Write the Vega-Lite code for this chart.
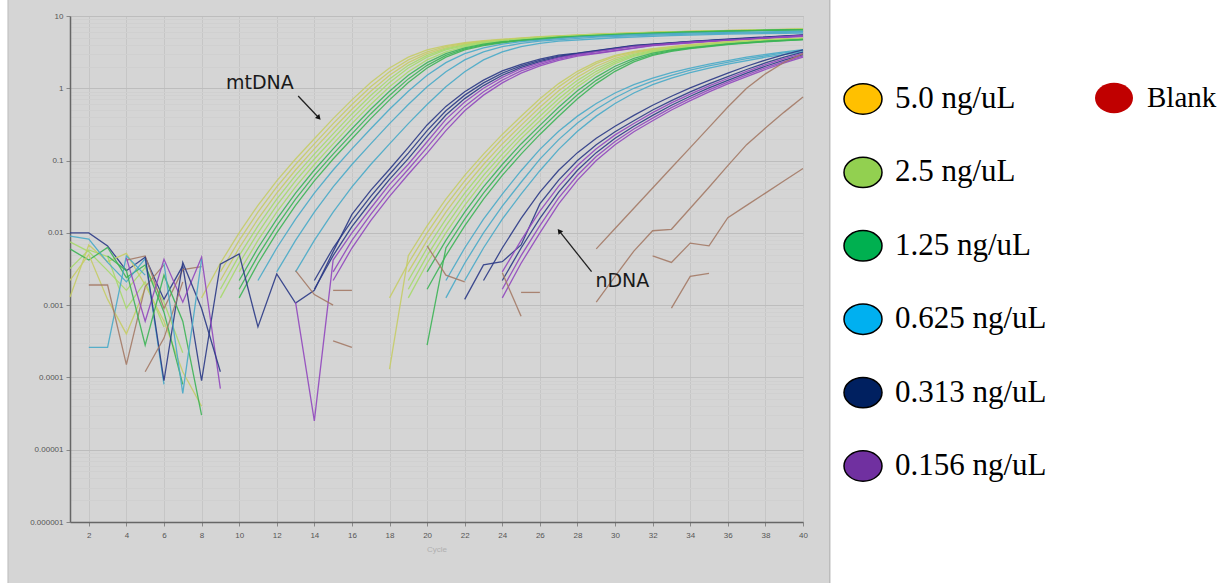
{
  "$schema": "https://vega.github.io/schema/vega-lite/v6.json",
  "width": 733,
  "height": 506,
  "autosize": {"type": "none"},
  "padding": {"left": 70, "top": 16, "right": 419, "bottom": 61},
  "data": {"values": [
    {"id":"m5a","g":"5.0 ng/uL","c":[8,9,10,11,12,13,14,15,16,17,18,19,20,21,22,23,26,29,32,35,38,40],"v":[0.00126,0.0038,0.01,0.024,0.0525,0.105,0.2,0.38,0.692,1.202,1.905,2.692,3.388,3.89,4.266,4.571,5.19,5.62,5.96,6.24,6.46,6.61]},
    {"id":"m5b","g":"5.0 ng/uL","c":[9,10,11,12,13,14,15,16,17,18,19,20,21,22,23,26,29,32,35,38,40],"v":[0.00288,0.00785,0.0193,0.0432,0.0881,0.17,0.324,0.596,1.047,1.698,2.469,3.199,3.758,4.169,4.492,5.15,5.6,5.94,6.22,6.44,6.59]},
    {"id":"m5c","g":"5.0 ng/uL","c":[9,10,11,12,13,14,15,16,17,18,19,20,21,22,23,26,29,32,35,38,40],"v":[0.00219,0.00617,0.0155,0.0355,0.0741,0.145,0.275,0.513,0.912,1.514,2.265,3.02,3.631,4.074,4.416,5.1,5.56,5.92,6.2,6.42,6.57]},
    {"id":"m25a","g":"2.5 ng/uL","c":[9,10,11,12,13,14,15,16,17,18,19,20,21,22,23,26,29,32,35,38,40],"v":[0.00166,0.00484,0.01245,0.0292,0.0624,0.123,0.234,0.442,0.794,1.349,2.078,2.851,3.508,3.981,4.34,5.05,5.53,5.9,6.18,6.4,6.55]},
    {"id":"m25b","g":"2.5 ng/uL","c":[9,10,11,12,13,14,15,16,17,18,19,20,21,22,23,24,27,30,33,36,39,40],"v":[0.00126,0.0038,0.01,0.024,0.0525,0.105,0.2,0.38,0.692,1.202,1.905,2.692,3.388,3.89,4.266,4.571,5.19,5.62,5.96,6.24,6.46,6.5]},
    {"id":"m25c","g":"2.5 ng/uL","c":[10,11,12,13,14,15,16,17,18,19,20,21,22,23,24,27,30,33,36,39,40],"v":[0.00288,0.00785,0.0193,0.0432,0.0881,0.17,0.324,0.596,1.047,1.698,2.469,3.199,3.758,4.169,4.492,5.15,5.6,5.94,6.22,6.44,6.48]},
    {"id":"m125a","g":"1.25 ng/uL","c":[10,11,12,13,14,15,16,17,18,19,20,21,22,23,24,27,30,33,36,39,40],"v":[0.00219,0.00617,0.0155,0.0355,0.0741,0.145,0.275,0.513,0.912,1.514,2.265,3.02,3.631,4.074,4.416,5.1,5.56,5.92,6.2,6.42,6.46]},
    {"id":"m125b","g":"1.25 ng/uL","c":[10,11,12,13,14,15,16,17,18,19,20,21,22,23,24,27,30,33,36,39,40],"v":[0.00166,0.00484,0.01245,0.0292,0.0624,0.123,0.234,0.442,0.794,1.349,2.078,2.851,3.508,3.981,4.34,5.05,5.53,5.9,6.18,6.4,6.44]},
    {"id":"m125c","g":"1.25 ng/uL","c":[10,11,12,13,14,15,16,17,18,19,20,21,22,23,24,25,28,31,34,37,40],"v":[0.00126,0.0038,0.01,0.024,0.0525,0.105,0.2,0.38,0.692,1.202,1.905,2.692,3.388,3.89,4.266,4.571,5.19,5.62,5.96,6.24,6.46]},
    {"id":"m625a","g":"0.625 ng/uL","c":[11,12,13,14,15,16,17,18,19,20,21,22,23,24,25,28,31,34,37,40],"v":[0.00219,0.00617,0.0155,0.0355,0.0741,0.145,0.275,0.513,0.912,1.514,2.265,3.02,3.631,4.074,4.416,5.1,5.5,5.8,6.0,6.15]},
    {"id":"m625b","g":"0.625 ng/uL","c":[12,13,14,15,16,17,18,19,20,21,22,23,24,25,26,29,32,35,38,40],"v":[0.00288,0.00785,0.0193,0.0432,0.0881,0.17,0.324,0.596,1.047,1.698,2.469,3.199,3.758,4.169,4.492,5.1,5.45,5.7,5.9,6.0]},
    {"id":"m625c","g":"0.625 ng/uL","c":[13,14,15,16,17,18,19,20,21,22,23,24,25,26,27,30,33,36,39,40],"v":[0.00288,0.00785,0.0193,0.0432,0.0881,0.17,0.324,0.596,1.047,1.698,2.469,3.199,3.758,4.169,4.492,5.0,5.35,5.6,5.75,5.8]},
    {"id":"m313a","g":"0.313 ng/uL","c":[1,2,3,4,5,6,7,8,9,10,11,12,13,14,15,16,17,18,19,20,21,22,23,24,25,26,27,28,31,34,37,40],"v":[0.01,0.01,0.0066,0.003,0.0046,0.0012,0.0035,0.00009,0.0037,0.0051,0.0005,0.0027,0.00107,0.0016,0.0055,0.018,0.0387,0.0759,0.152,0.311,0.562,0.896,1.296,1.738,2.138,2.526,2.868,3.06,3.93,4.45,4.98,5.47]},
    {"id":"m313b","g":"0.313 ng/uL","c":[14,15,16,17,18,19,20,21,22,23,24,25,26,27,28,31,34,37,40],"v":[0.00219,0.00617,0.0148,0.032,0.0646,0.127,0.26,0.49,0.804,1.189,1.622,2.042,2.427,2.786,3.03,3.89,4.42,4.9,5.43]},
    {"id":"m313c","g":"0.313 ng/uL","c":[14,15,16,17,18,19,20,21,22,23,24,25,26,27,28,31,34,37,40],"v":[0.00166,0.00484,0.0122,0.0265,0.055,0.1065,0.2175,0.427,0.72,1.09,1.514,1.95,2.331,2.707,2.99,3.84,4.4,4.85,5.4]},
    {"id":"m156a","g":"0.156 ng/uL","c":[13,14,15,16,17,18,19,20,21,22,23,24,25,26,27,28,31,34,37,40],"v":[0.0011,0.000025,0.0042,0.01,0.0219,0.0468,0.0891,0.182,0.372,0.646,1.0,1.413,1.862,2.239,2.63,2.951,3.8,4.37,4.79,5.37]},
    {"id":"m156b","g":"0.156 ng/uL","c":[15,16,17,18,19,20,21,22,23,24,25,26,27,28,29,32,35,38,40],"v":[0.00288,0.00785,0.018,0.0387,0.0759,0.152,0.311,0.562,0.896,1.296,1.738,2.138,2.526,2.868,3.06,3.93,4.45,4.98,5.3]},
    {"id":"m156c","g":"0.156 ng/uL","c":[15,16,17,18,19,20,21,22,23,24,25,26,27,28,29,32,35,38,40],"v":[0.00219,0.00617,0.0148,0.032,0.0646,0.127,0.26,0.49,0.804,1.189,1.622,2.042,2.427,2.786,3.03,3.89,4.42,4.9,5.2]},
    {"id":"n5a","g":"5.0 ng/uL","c":[18,19,20,21,22,23,24,25,26,27,28,29,30,31,32,34,36,38,40],"v":[0.00013,0.00484,0.01245,0.0292,0.0624,0.123,0.23,0.41,0.716,1.161,1.718,2.317,2.851,3.236,3.53,4.03,4.4,4.7,4.92]},
    {"id":"n5b","g":"5.0 ng/uL","c":[18,19,20,21,22,23,24,25,26,27,28,29,30,31,32,34,36,38,40],"v":[0.00126,0.0038,0.01,0.024,0.0525,0.105,0.2,0.355,0.631,1.047,1.585,2.188,2.754,3.162,3.467,3.98,4.37,4.68,4.9]},
    {"id":"n5c","g":"5.0 ng/uL","c":[19,20,21,22,23,24,25,26,27,28,29,30,31,32,33,35,37,39,40],"v":[0.00288,0.00785,0.0193,0.0432,0.0881,0.17,0.307,0.546,0.923,1.429,2.018,2.6,3.055,3.388,3.65,4.12,4.48,4.76,4.85]},
    {"id":"n25a","g":"2.5 ng/uL","c":[19,20,21,22,23,24,25,26,27,28,29,30,31,32,33,35,37,39,40],"v":[0.00219,0.00617,0.0155,0.0355,0.0741,0.145,0.266,0.473,0.813,1.288,1.862,2.455,2.951,3.311,3.6,4.08,4.45,4.73,4.82]},
    {"id":"n25b","g":"2.5 ng/uL","c":[19,20,21,22,23,24,25,26,27,28,29,30,31,32,33,35,37,39,40],"v":[0.00166,0.00484,0.01245,0.0292,0.0624,0.123,0.23,0.41,0.716,1.161,1.718,2.317,2.851,3.236,3.53,4.03,4.4,4.7,4.8]},
    {"id":"n25c","g":"2.5 ng/uL","c":[19,20,21,22,23,24,25,26,27,28,29,30,31,32,33,35,37,39,40],"v":[0.00126,0.0038,0.01,0.024,0.0525,0.105,0.2,0.355,0.631,1.047,1.585,2.188,2.754,3.162,3.467,3.98,4.37,4.68,4.79]},
    {"id":"n125a","g":"1.25 ng/uL","c":[20,21,22,23,24,25,26,27,28,29,30,31,32,33,34,36,38,40],"v":[0.00288,0.00785,0.0193,0.0432,0.0881,0.17,0.307,0.546,0.923,1.429,2.018,2.6,3.055,3.388,3.65,4.12,4.48,4.76]},
    {"id":"n125b","g":"1.25 ng/uL","c":[20,21,22,23,24,25,26,27,28,29,30,31,32,33,34,36,38,40],"v":[0.00028,0.00617,0.0155,0.0355,0.0741,0.145,0.266,0.473,0.813,1.288,1.862,2.455,2.951,3.311,3.6,4.08,4.45,4.73]},
    {"id":"n125c","g":"1.25 ng/uL","c":[20,21,22,23,24,25,26,27,28,29,30,31,32,33,34,36,38,40],"v":[0.00166,0.00484,0.01245,0.0292,0.0624,0.123,0.23,0.41,0.716,1.161,1.718,2.317,2.851,3.236,3.53,4.03,4.4,4.7]},
    {"id":"n625a","g":"0.625 ng/uL","c":[21,22,23,24,25,26,27,28,29,30,31,32,33,34,35,37,39,40],"v":[0.00219,0.00617,0.0155,0.0343,0.0724,0.143,0.254,0.412,0.617,0.861,1.122,1.38,1.641,1.905,2.16,2.69,3.2,3.43]},
    {"id":"n625b","g":"0.625 ng/uL","c":[21,22,23,24,25,26,27,28,29,30,31,32,33,34,35,37,39,40],"v":[0.00126,0.0038,0.01,0.0234,0.0501,0.1047,0.195,0.331,0.513,0.741,1.0,1.259,1.514,1.778,2.042,2.57,3.09,3.31]},
    {"id":"n625c","g":"0.625 ng/uL","c":[22,23,24,25,26,27,28,29,30,31,32,33,34,35,36,38,40],"v":[0.00219,0.00617,0.0155,0.0343,0.0724,0.143,0.254,0.412,0.617,0.861,1.122,1.38,1.641,1.905,2.16,2.69,3.2]},
    {"id":"n313a","g":"0.313 ng/uL","c":[23,24,25,26,27,28,29,30,31,32,33,34,35,36,37,38,39,40],"v":[0.00219,0.00617,0.01585,0.0367,0.0733,0.1288,0.2042,0.2985,0.4217,0.5821,0.7762,1.012,1.288,1.622,2.018,2.455,2.917,3.39]},
    {"id":"n313b","g":"0.313 ng/uL","c":[22,23,24,25,26,27,28,29,30,31,32,33,34,35,36,37,38,39,40],"v":[0.0012,0.0036,0.004,0.0068,0.0251,0.0537,0.1,0.166,0.251,0.355,0.501,0.676,0.891,1.148,1.445,1.82,2.239,2.692,3.162]},
    {"id":"n313c","g":"0.313 ng/uL","c":[24,25,26,27,28,29,30,31,32,33,34,35,36,37,38,39,40],"v":[0.00219,0.00617,0.01585,0.0367,0.0733,0.1288,0.2042,0.2985,0.4217,0.5821,0.7762,1.012,1.288,1.622,2.018,2.455,2.917]},
    {"id":"n156a","g":"0.156 ng/uL","c":[24,25,26,27,28,29,30,31,32,33,34,35,36,37,38,39,40],"v":[0.00288,0.00785,0.02,0.0444,0.0856,0.1462,0.2265,0.3255,0.4597,0.6273,0.8318,1.078,1.365,1.718,2.126,2.57,3.038]},
    {"id":"n156b","g":"0.156 ng/uL","c":[24,25,26,27,28,29,30,31,32,33,34,35,36,37,38,39,40],"v":[0.00166,0.00484,0.01259,0.0304,0.0627,0.1135,0.1841,0.2738,0.3868,0.5401,0.7244,0.9495,1.216,1.531,1.917,2.344,2.802]},
    {"id":"n156c","g":"0.156 ng/uL","c":[24,25,26,27,28,29,30,31,32,33,34,35,36,37,38,39,40],"v":[0.00126,0.0038,0.01,0.0251,0.0537,0.1,0.166,0.251,0.355,0.501,0.676,0.891,1.148,1.445,1.82,2.239,2.692]},
    {"id":"bA","g":"Blank","c":[29,30,31,32,33,34,35,36,37,38,39,40],"v":[0.006,0.0115,0.0219,0.0417,0.0794,0.151,0.288,0.55,1.0,1.585,2.29,3.02]},
    {"id":"bB","g":"Blank","c":[29,30,31,32,33,34,35,36,37,38,39,40],"v":[0.0011,0.0025,0.0056,0.0107,0.0112,0.0219,0.0427,0.0851,0.166,0.282,0.468,0.759]},
    {"id":"bC","g":"Blank","c":[32,33,34,35,36,37,38,39,40],"v":[0.0048,0.0039,0.0072,0.0066,0.0162,0.024,0.0355,0.0525,0.0776]},
    {"id":"bD","g":"Blank","c":[33,34,35],"v":[0.00091,0.0025,0.00275]},
    {"id":"bF1","g":"Blank","c":[20,21,22],"v":[0.0066,0.0026,0.0021]},
    {"id":"bF2","g":"Blank","c":[24,25],"v":[0.0028,0.0007]},
    {"id":"bF3","g":"Blank","c":[25,26],"v":[0.0015,0.0015]},
    {"id":"bF4","g":"Blank","c":[13,14,15],"v":[0.003,0.0014,0.001]},
    {"id":"bF5","g":"Blank","c":[15,16],"v":[0.0016,0.0016]},
    {"id":"bF6","g":"Blank","c":[15,16],"v":[0.00032,0.00026]},
    {"id":"z1","g":"2.5 ng/uL","c":[1,2,3,4,5,6,7],"v":[0.0075,0.0055,0.003,0.0016,0.0033,0.0011,0.00022]},
    {"id":"z2","g":"2.5 ng/uL","c":[1,2,3,4,5,6],"v":[0.0032,0.0058,0.0047,0.0009,0.0021,0.0005]},
    {"id":"z3","g":"5.0 ng/uL","c":[1,2,3,4,5,6,7,8],"v":[0.0013,0.0068,0.004,0.0052,0.0019,0.0006,0.00012,0.00004]},
    {"id":"z4","g":"1.25 ng/uL","c":[1,2,3,4,5,6,7],"v":[0.006,0.0042,0.0063,0.0024,0.0036,0.0008,0.00008]},
    {"id":"z5","g":"5.0 ng/uL","c":[1,2,3,4,5],"v":[0.0022,0.005,0.0012,0.0004,0.0017]},
    {"id":"z6","g":"0.625 ng/uL","c":[1,2,3,4,5,6],"v":[0.009,0.0082,0.0039,0.0021,0.0044,0.00008]},
    {"id":"z7","g":"0.625 ng/uL","c":[2,3,4,5],"v":[0.00026,0.00026,0.0048,0.0026]},
    {"id":"z8","g":"Blank","c":[2,3,4,5,6],"v":[0.0019,0.0019,0.00015,0.0018,0.0036]},
    {"id":"z9","g":"Blank","c":[4,5,6,7,8],"v":[0.0042,0.0048,0.0009,0.0031,0.0034]},
    {"id":"z10","g":"0.156 ng/uL","c":[4,5,6,7,8,9],"v":[0.0045,0.0006,0.0043,0.0011,0.0046,0.00007]},
    {"id":"z11","g":"0.313 ng/uL","c":[5,6,7,8,9],"v":[0.0047,0.00009,0.0039,0.0009,0.00012]},
    {"id":"z12","g":"1.25 ng/uL","c":[3,4,5,6,7,8],"v":[0.0048,0.003,0.00028,0.0026,0.0006,0.00003]},
    {"id":"z13","g":"Blank","c":[5,6,7],"v":[0.00012,0.00035,0.0021]},
    {"id":"z14","g":"0.625 ng/uL","c":[6,7,8],"v":[0.0038,0.00006,0.0043]}
  ]},
  "layer": [
    {
      "data": {"values": [{}]},
      "mark": {"type": "rect", "fill": "#ffffff", "stroke": "#aaaaaa", "strokeWidth": 1},
      "encoding": {
        "x": {"datum": 41.43, "type": "quantitative"},
        "x2": {"datum": 90},
        "y": {"datum": 1000, "type": "quantitative"},
        "y2": {"datum": 1e-9}
      }
    },
    {
      "data": {"values": [{}]},
      "mark": {"type": "rect", "fill": "#ffffff", "stroke": "#bbbbbb", "strokeWidth": 1},
      "encoding": {
        "x": {"datum": -10, "type": "quantitative"},
        "x2": {"datum": -2.3},
        "y": {"datum": 1000, "type": "quantitative"},
        "y2": {"datum": 1e-9}
      }
    },
    {
      "transform": [{"flatten": ["c", "v"]}],
      "mark": {"type": "line", "strokeWidth": 1.3, "opacity": 0.9},
      "encoding": {
        "x": {
          "field": "c", "type": "quantitative",
          "scale": {"domain": [1, 40], "nice": false, "zero": false},
          "axis": {
            "values": [2,4,6,8,10,12,14,16,18,20,22,24,26,28,30,32,34,36,38,40],
            "tickCount": 100,
            "format": "d",
            "labelOverlap": false, "labelFlush": false,
            "title": "Cycle"
          }
        },
        "y": {
          "field": "v", "type": "quantitative",
          "scale": {"type": "log", "domain": [1e-6, 10], "nice": false},
          "axis": {
            "values": [1e-6,2e-6,3e-6,4e-6,5e-6,6e-6,7e-6,8e-6,9e-6,1e-5,2e-5,3e-5,4e-5,5e-5,6e-5,7e-5,8e-5,9e-5,1e-4,2e-4,3e-4,4e-4,5e-4,6e-4,7e-4,8e-4,9e-4,0.001,0.002,0.003,0.004,0.005,0.006,0.007,0.008,0.009,0.01,0.02,0.03,0.04,0.05,0.06,0.07,0.08,0.09,0.1,0.2,0.3,0.4,0.5,0.6,0.7,0.8,0.9,1,2,3,4,5,6,7,8,9,10],
            "tickCount": 200,
            "labelExpr": "abs(log(datum.value)/LN10 - round(log(datum.value)/LN10)) < 0.001 ? format(datum.value, '.6~f') : ''",
            "labelOverlap": false,
            "title": null,
            "tickOpacity": {"condition": {"test": "abs(log(datum.value)/LN10 - round(log(datum.value)/LN10)) < 0.001", "value": 1}, "value": 0},
            "gridColor": {"condition": {"test": "abs(log(datum.value)/LN10 - round(log(datum.value)/LN10)) < 0.001", "value": "#bdbdbd"}, "value": "#d0d0d0"}
          }
        },
        "detail": {"field": "id"},
        "color": {
          "field": "g", "type": "nominal",
          "scale": {
            "domain": ["5.0 ng/uL", "2.5 ng/uL", "1.25 ng/uL", "0.625 ng/uL", "0.313 ng/uL", "0.156 ng/uL", "Blank"],
            "range": ["#c5cc66", "#a6d96a", "#3cb455", "#48aac8", "#2b3a86", "#9147be", "#a47a66"]
          },
          "legend": null
        }
      }
    },
    {
      "transform": [{"filter": "datum.g != 'Blank'"}, {"aggregate": [{"op": "count", "as": "n"}], "groupby": ["g"]}],
      "mark": {"type": "point", "opacity": 0, "filled": true},
      "encoding": {
        "fill": {
          "field": "g", "type": "nominal",
          "scale": {
            "domain": ["5.0 ng/uL", "2.5 ng/uL", "1.25 ng/uL", "0.625 ng/uL", "0.313 ng/uL", "0.156 ng/uL"],
            "range": ["#FFC000", "#92D050", "#00B050", "#00B0F0", "#002060", "#7030A0"]
          },
          "legend": {
            "orient": "none", "legendX": 773, "legendY": 63, "direction": "vertical", "title": null,
            "symbolType": "M-1,0A1,0.8,0,1,1,1,0A1,0.8,0,1,1,-1,0Z",
            "symbolSize": 1444, "symbolStrokeColor": "#000000", "symbolStrokeWidth": 1.5, "symbolOpacity": 1,
            "labelFont": "Liberation Serif", "labelFontSize": 31, "labelColor": "#000000", "labelOffset": 12,
            "labelLimit": 400, "rowPadding": 34.4, "padding": 0,
            "labelExpr": "(datum.label == '1.25 ng/uL' || datum.label == '0.625 ng/uL' || datum.label == '0.313 ng/uL') ? '\u00a0' + datum.label : (datum.label == '0.156 ng/uL' ? '\u00a0\u00a0' + datum.label : datum.label)"
          }
        }
      }
    },
    {
      "transform": [{"filter": "datum.g == 'Blank'"}, {"aggregate": [{"op": "count", "as": "n"}], "groupby": ["g"]}],
      "mark": {"type": "point", "opacity": 0, "filled": true, "color": "#C00000"},
      "encoding": {
        "shape": {
          "field": "g", "type": "nominal",
          "scale": {"domain": ["Blank"], "range": ["M-1,0A1,0.8,0,1,1,1,0A1,0.8,0,1,1,-1,0Z"]},
          "legend": {
            "orient": "none", "legendX": 1024, "legendY": 62, "title": null,
            "symbolSize": 1444, "symbolFillColor": "#C00000", "symbolStrokeColor": "#000000", "symbolStrokeWidth": 1.5, "symbolOpacity": 1,
            "labelFont": "Liberation Serif", "labelFontSize": 29, "labelColor": "#000000", "labelOffset": 13,
            "labelLimit": 400, "padding": 0
          }
        }
      }
    },
    {
      "data": {"values": [{}]},
      "mark": {"type": "rule", "color": "#222222", "strokeWidth": 1.3},
      "encoding": {
        "x": {"datum": 13.14, "type": "quantitative"}, "y": {"datum": 0.782, "type": "quantitative"},
        "x2": {"datum": 14.21}, "y2": {"datum": 0.397}
      }
    },
    {
      "data": {"values": [{}]},
      "mark": {"type": "point", "shape": "triangle", "filled": true, "color": "#111111", "size": 35, "angle": 136.8, "opacity": 1},
      "encoding": {"x": {"datum": 14.21, "type": "quantitative"}, "y": {"datum": 0.397, "type": "quantitative"}}
    },
    {
      "data": {"values": [{}]},
      "mark": {"type": "rule", "color": "#222222", "strokeWidth": 1.3},
      "encoding": {
        "x": {"datum": 28.75, "type": "quantitative"}, "y": {"datum": 0.0029, "type": "quantitative"},
        "x2": {"datum": 27.06}, "y2": {"datum": 0.0104}
      }
    },
    {
      "data": {"values": [{}]},
      "mark": {"type": "point", "shape": "triangle", "filled": true, "color": "#111111", "size": 35, "angle": 321.6, "opacity": 1},
      "encoding": {"x": {"datum": 27.06, "type": "quantitative"}, "y": {"datum": 0.0104, "type": "quantitative"}}
    },
    {
      "data": {"values": [{}]},
      "mark": {"type": "text", "text": "mtDNA", "font": "DejaVu Sans", "fontSize": 19, "color": "#1a1a1a", "align": "center", "baseline": "middle"},
      "encoding": {"x": {"datum": 11.1, "type": "quantitative"}, "y": {"datum": 1.165, "type": "quantitative"}}
    },
    {
      "data": {"values": [{}]},
      "mark": {"type": "text", "text": "nDNA", "font": "DejaVu Sans", "fontSize": 19, "color": "#1a1a1a", "align": "center", "baseline": "middle"},
      "encoding": {"x": {"datum": 30.39, "type": "quantitative"}, "y": {"datum": 0.00216, "type": "quantitative"}}
    }
  ],
  "config": {
    "background": "#d5d5d5",
    "view": {"fill": "#e5e5e5", "stroke": "#b5b5b5"},
    "axis": {
      "labelOverlap": false,
      "labelFont": "Liberation Sans", "labelFontSize": 8, "labelColor": "#555555",
      "tickSize": 4, "tickColor": "#888888", "domainColor": "#666666", "domainWidth": 1.5,
      "grid": true, "labelPadding": 3
    },
    "axisX": {
      "labelOverlap": false, "labelFlush": false, "labelPadding": 5, "gridColor": "#c6c6c6",
      "titleFontSize": 8, "titleColor": "#b0b0b0", "titleFontWeight": "normal", "titlePadding": 6, "titleFont": "Liberation Sans"
    }
  }
}
